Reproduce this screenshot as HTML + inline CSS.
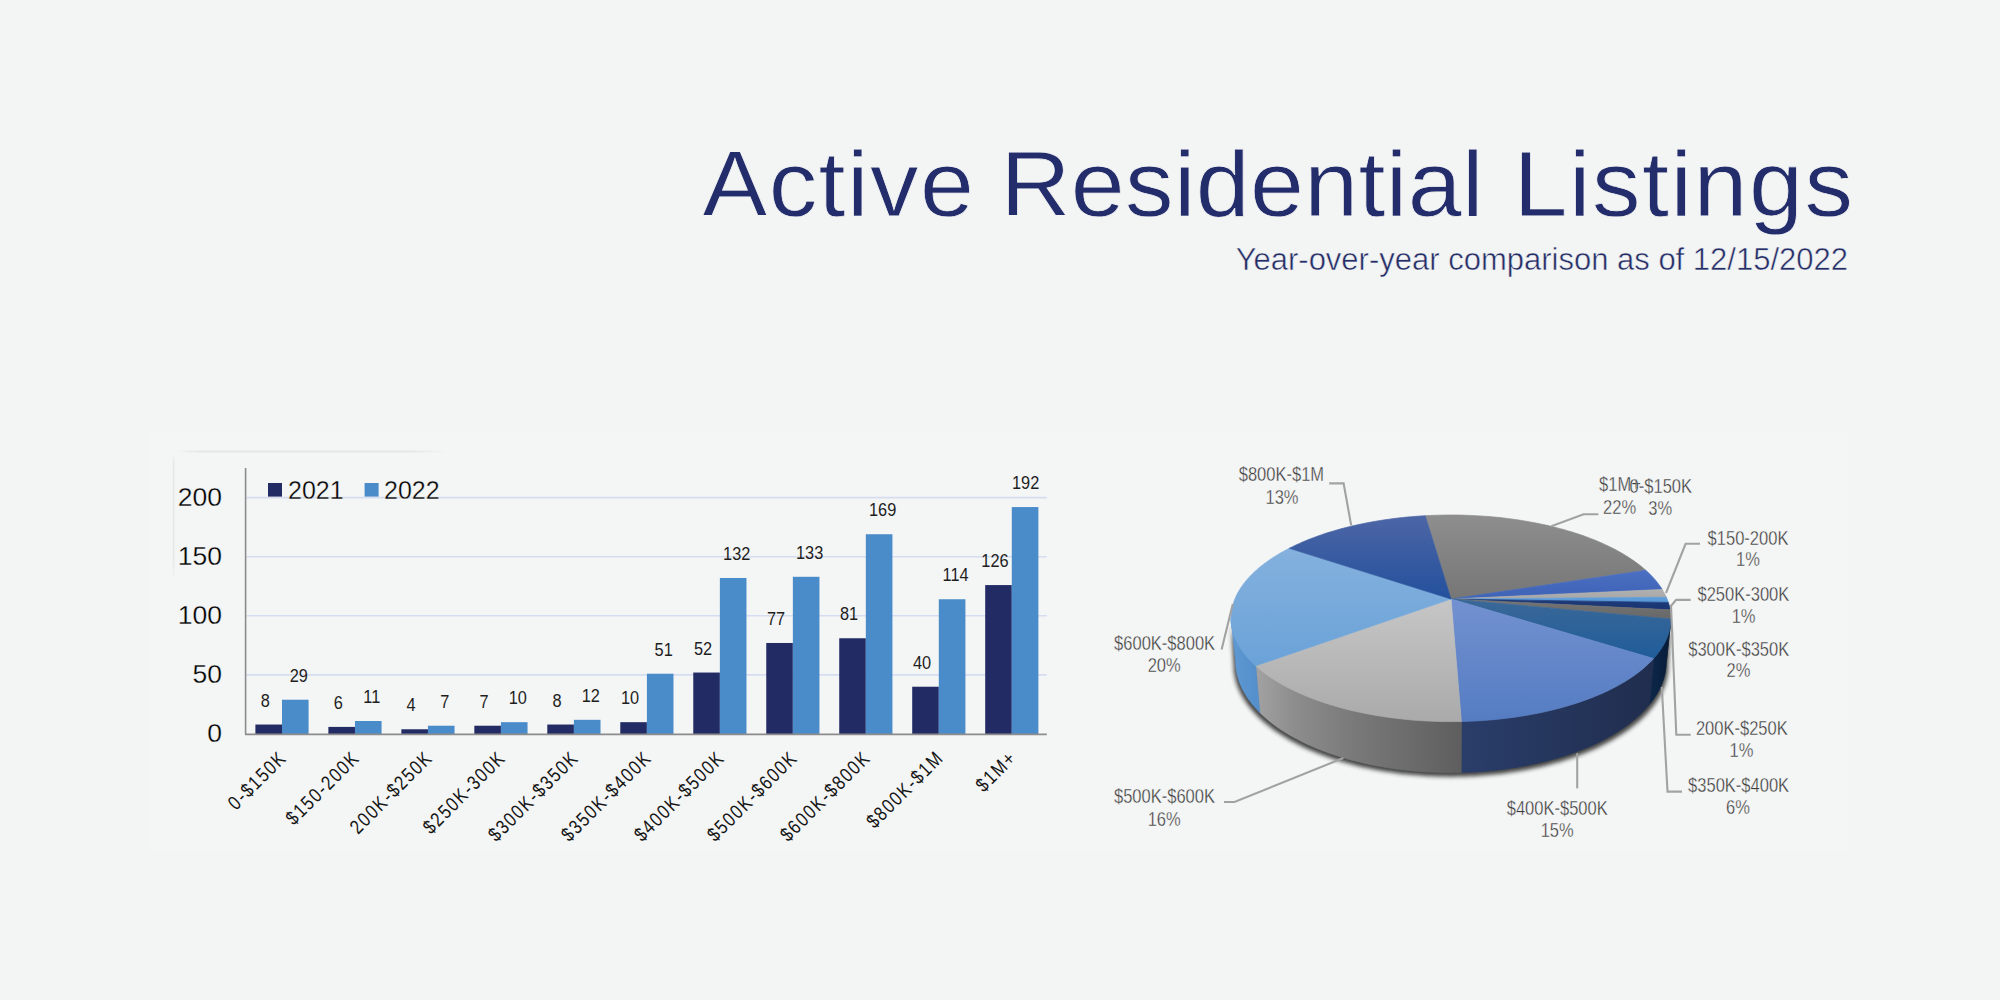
<!DOCTYPE html><html><head><meta charset="utf-8"><style>
html,body{margin:0;padding:0;width:2000px;height:1000px;overflow:hidden;background:#f3f4f4;}
svg{position:absolute;left:0;top:0;display:block;}
text{font-family:"Liberation Sans",sans-serif;}
.title{font-size:97px;fill:#232d6b;stroke:#f3f4f4;stroke-width:0.8px;}
.sub{font-size:31px;fill:#252d66;stroke:#f3f4f4;stroke-width:0.5px;}
.dl{font-size:19px;fill:#1e1e1e;text-anchor:middle;}
.yl{font-size:26.5px;fill:#000;text-anchor:end;stroke:#f4f5f5;stroke-width:0.3px;}
.lg{font-size:25px;fill:#000;stroke:#f4f5f5;stroke-width:0.3px;}
.xl{font-size:20px;fill:#151515;text-anchor:end;letter-spacing:2px;}
.pl{font-size:19.8px;fill:#383838;text-anchor:middle;stroke:#f4f5f5;stroke-width:0.35px;}
</style></head><body>
<svg width="2000" height="1000" viewBox="0 0 2000 1000">
<defs><filter id="pshadow" x="-20%" y="-30%" width="140%" height="160%"><feGaussianBlur stdDeviation="1.9"/></filter><linearGradient id="w5_0" gradientUnits="userSpaceOnUse" x1="1671.0" y1="0" x2="1671.0" y2="0"><stop offset="0" stop-color="#505050"/><stop offset="1" stop-color="#404040"/></linearGradient><linearGradient id="w6_0" gradientUnits="userSpaceOnUse" x1="1653.6" y1="0" x2="1671.0" y2="0"><stop offset="0" stop-color="#0c2648"/><stop offset="1" stop-color="#071a36"/></linearGradient><linearGradient id="w7_0" gradientUnits="userSpaceOnUse" x1="1461.4" y1="0" x2="1653.6" y2="0"><stop offset="0" stop-color="#2a3e6a"/><stop offset="1" stop-color="#202d4e"/></linearGradient><linearGradient id="w8_0" gradientUnits="userSpaceOnUse" x1="1255.7" y1="0" x2="1461.4" y2="0"><stop offset="0" stop-color="#a2a2a2"/><stop offset="0.2" stop-color="#8c8c8c"/><stop offset="0.5" stop-color="#787878"/><stop offset="0.8" stop-color="#696969"/><stop offset="1" stop-color="#5e5e5e"/></linearGradient><linearGradient id="w9_0" gradientUnits="userSpaceOnUse" x1="1231.0" y1="0" x2="1255.7" y2="0"><stop offset="0" stop-color="#5e99d3"/><stop offset="1" stop-color="#5590cc"/></linearGradient><linearGradient id="t0" gradientUnits="userSpaceOnUse" x1="0" y1="515" x2="0" y2="600"><stop offset="0" stop-color="#8e8e8e"/><stop offset="1" stop-color="#767676"/></linearGradient><linearGradient id="t1" gradientUnits="userSpaceOnUse" x1="0" y1="570" x2="0" y2="600"><stop offset="0" stop-color="#4c70c2"/><stop offset="1" stop-color="#3d62b6"/></linearGradient><linearGradient id="t2" gradientUnits="userSpaceOnUse" x1="0" y1="590" x2="0" y2="600"><stop offset="0" stop-color="#b0b0b0"/><stop offset="1" stop-color="#a6a6a6"/></linearGradient><linearGradient id="t3" gradientUnits="userSpaceOnUse" x1="0" y1="595" x2="0" y2="602"><stop offset="0" stop-color="#62a0dc"/><stop offset="1" stop-color="#5898d6"/></linearGradient><linearGradient id="t4" gradientUnits="userSpaceOnUse" x1="0" y1="598" x2="0" y2="608"><stop offset="0" stop-color="#1e3c7c"/><stop offset="1" stop-color="#1a3572"/></linearGradient><linearGradient id="t5" gradientUnits="userSpaceOnUse" x1="0" y1="600" x2="0" y2="616"><stop offset="0" stop-color="#747474"/><stop offset="1" stop-color="#6a6a6a"/></linearGradient><linearGradient id="t6" gradientUnits="userSpaceOnUse" x1="0" y1="600" x2="0" y2="660"><stop offset="0" stop-color="#3a6898"/><stop offset="1" stop-color="#1f5c9a"/></linearGradient><linearGradient id="t7" gradientUnits="userSpaceOnUse" x1="0" y1="600" x2="0" y2="722"><stop offset="0" stop-color="#7291d0"/><stop offset="1" stop-color="#557cc2"/></linearGradient><linearGradient id="t8" gradientUnits="userSpaceOnUse" x1="0" y1="600" x2="0" y2="722"><stop offset="0" stop-color="#c6c6c6"/><stop offset="1" stop-color="#aaaaaa"/></linearGradient><linearGradient id="t9" gradientUnits="userSpaceOnUse" x1="0" y1="540" x2="0" y2="667"><stop offset="0" stop-color="#86b2de"/><stop offset="1" stop-color="#6aa2d8"/></linearGradient><linearGradient id="t10" gradientUnits="userSpaceOnUse" x1="0" y1="515" x2="0" y2="600"><stop offset="0" stop-color="#4d66a6"/><stop offset="1" stop-color="#23509c"/></linearGradient></defs>
<rect x="150" y="431" width="1699" height="419" fill="#f4f5f5"/>
<linearGradient id="fr1" x1="0" y1="0" x2="1" y2="0"><stop offset="0" stop-color="#e4e6e6" stop-opacity="0"/><stop offset="0.1" stop-color="#e4e6e6"/><stop offset="0.85" stop-color="#e4e6e6"/><stop offset="1" stop-color="#e4e6e6" stop-opacity="0"/></linearGradient>
<linearGradient id="fr2" x1="0" y1="0" x2="0" y2="1"><stop offset="0" stop-color="#e4e6e6" stop-opacity="0"/><stop offset="0.1" stop-color="#e4e6e6"/><stop offset="0.8" stop-color="#e4e6e6"/><stop offset="1" stop-color="#e4e6e6" stop-opacity="0"/></linearGradient>
<rect x="175" y="450.5" width="273" height="2" fill="url(#fr1)"/>
<rect x="172.8" y="452" width="1.6" height="130" fill="url(#fr2)"/>
<g transform="translate(0,215.6) scale(1,0.955) translate(0,-215.6)">
<text x="702.5" y="215.6" class="title" textLength="271.5" lengthAdjust="spacing">Active</text>
<text x="1000.5" y="215.6" class="title" textLength="483" lengthAdjust="spacing">Residential</text>
<text x="1513.5" y="215.6" class="title" textLength="339.5" lengthAdjust="spacing">Listings</text>
</g>
<text x="1848" y="269.8" class="sub" text-anchor="end">Year-over-year comparison as of 12/15/2022</text>
<g><line x1="246.5" y1="674.9" x2="1046.8" y2="674.9" stroke="#d6ddf0" stroke-width="1.6"/><line x1="246.5" y1="615.8" x2="1046.8" y2="615.8" stroke="#d6ddf0" stroke-width="1.6"/><line x1="246.5" y1="556.7" x2="1046.8" y2="556.7" stroke="#d6ddf0" stroke-width="1.6"/><line x1="246.5" y1="497.6" x2="1046.8" y2="497.6" stroke="#d6ddf0" stroke-width="1.6"/><rect x="255.39" y="724.54" width="26.60" height="9.46" fill="#232b64"/><rect x="281.99" y="699.72" width="26.60" height="34.28" fill="#4a8cca"/><text transform="translate(265.19,706.54) scale(0.86,1)" class="dl">8</text><text transform="translate(298.79,681.72) scale(0.86,1)" class="dl">29</text><text class="xl" transform="translate(287.99,759.00) rotate(-45) scale(0.82,1)">0-&#36;150K</text><rect x="328.37" y="726.91" width="26.60" height="7.09" fill="#232b64"/><rect x="354.97" y="721.00" width="26.60" height="13.00" fill="#4a8cca"/><text transform="translate(338.17,708.91) scale(0.86,1)" class="dl">6</text><text transform="translate(371.77,703.00) scale(0.86,1)" class="dl">11</text><text class="xl" transform="translate(360.97,759.00) rotate(-45) scale(0.82,1)">&#36;150-200K</text><rect x="401.35" y="729.27" width="26.60" height="4.73" fill="#232b64"/><rect x="427.95" y="725.73" width="26.60" height="8.27" fill="#4a8cca"/><text transform="translate(411.15,711.27) scale(0.86,1)" class="dl">4</text><text transform="translate(444.75,707.73) scale(0.86,1)" class="dl">7</text><text class="xl" transform="translate(433.95,759.00) rotate(-45) scale(0.82,1)">200K-&#36;250K</text><rect x="474.33" y="725.73" width="26.60" height="8.27" fill="#232b64"/><rect x="500.93" y="722.18" width="26.60" height="11.82" fill="#4a8cca"/><text transform="translate(484.13,707.73) scale(0.86,1)" class="dl">7</text><text transform="translate(517.73,704.18) scale(0.86,1)" class="dl">10</text><text class="xl" transform="translate(506.93,759.00) rotate(-45) scale(0.82,1)">&#36;250K-300K</text><rect x="547.31" y="724.54" width="26.60" height="9.46" fill="#232b64"/><rect x="573.91" y="719.82" width="26.60" height="14.18" fill="#4a8cca"/><text transform="translate(557.11,706.54) scale(0.86,1)" class="dl">8</text><text transform="translate(590.71,701.82) scale(0.86,1)" class="dl">12</text><text class="xl" transform="translate(579.91,759.00) rotate(-45) scale(0.82,1)">&#36;300K-&#36;350K</text><rect x="620.29" y="722.18" width="26.60" height="11.82" fill="#232b64"/><rect x="646.89" y="673.72" width="26.60" height="60.28" fill="#4a8cca"/><text transform="translate(630.09,704.18) scale(0.86,1)" class="dl">10</text><text transform="translate(663.69,655.72) scale(0.86,1)" class="dl">51</text><text class="xl" transform="translate(652.89,759.00) rotate(-45) scale(0.82,1)">&#36;350K-&#36;400K</text><rect x="693.27" y="672.54" width="26.60" height="61.46" fill="#232b64"/><rect x="719.87" y="577.98" width="26.60" height="156.02" fill="#4a8cca"/><text transform="translate(703.07,654.54) scale(0.86,1)" class="dl">52</text><text transform="translate(736.67,559.98) scale(0.86,1)" class="dl">132</text><text class="xl" transform="translate(725.87,759.00) rotate(-45) scale(0.82,1)">&#36;400K-&#36;500K</text><rect x="766.25" y="642.99" width="26.60" height="91.01" fill="#232b64"/><rect x="792.85" y="576.79" width="26.60" height="157.21" fill="#4a8cca"/><text transform="translate(776.05,624.99) scale(0.86,1)" class="dl">77</text><text transform="translate(809.65,558.79) scale(0.86,1)" class="dl">133</text><text class="xl" transform="translate(798.85,759.00) rotate(-45) scale(0.82,1)">&#36;500K-&#36;600K</text><rect x="839.23" y="638.26" width="26.60" height="95.74" fill="#232b64"/><rect x="865.83" y="534.24" width="26.60" height="199.76" fill="#4a8cca"/><text transform="translate(849.03,620.26) scale(0.86,1)" class="dl">81</text><text transform="translate(882.63,516.24) scale(0.86,1)" class="dl">169</text><text class="xl" transform="translate(871.83,759.00) rotate(-45) scale(0.82,1)">&#36;600K-&#36;800K</text><rect x="912.21" y="686.72" width="26.60" height="47.28" fill="#232b64"/><rect x="938.81" y="599.25" width="26.60" height="134.75" fill="#4a8cca"/><text transform="translate(922.01,668.72) scale(0.86,1)" class="dl">40</text><text transform="translate(955.61,581.25) scale(0.86,1)" class="dl">114</text><text class="xl" transform="translate(944.81,759.00) rotate(-45) scale(0.82,1)">&#36;800K-&#36;1M</text><rect x="985.19" y="585.07" width="26.60" height="148.93" fill="#232b64"/><rect x="1011.79" y="507.06" width="26.60" height="226.94" fill="#4a8cca"/><text transform="translate(994.99,567.07) scale(0.86,1)" class="dl">126</text><text transform="translate(1025.59,489.06) scale(0.86,1)" class="dl">192</text><text class="xl" transform="translate(1017.79,759.00) rotate(-45) scale(0.82,1)">&#36;1M+</text><line x1="245.6" y1="468" x2="245.6" y2="734.5" stroke="#8c8c8c" stroke-width="1.6"/><line x1="245" y1="734.3" x2="1046.8" y2="734.3" stroke="#8c8c8c" stroke-width="1.8"/><text x="222" y="742.3" class="yl">0</text><text x="222" y="683.2" class="yl">50</text><text x="222" y="624.1" class="yl">100</text><text x="222" y="565.0" class="yl">150</text><text x="222" y="505.9" class="yl">200</text><rect x="268" y="483" width="14" height="13.6" fill="#232b64"/><text x="288" y="499" class="lg">2021</text><rect x="364.6" y="483" width="14" height="13.6" fill="#4a8cca"/><text x="384" y="499" class="lg">2022</text></g>
<g><path d="M1233.71,665.30 L1233.77,667.92 L1233.95,670.54 L1234.25,673.18 L1234.68,675.82 L1235.24,678.47 L1235.92,681.12 L1236.72,683.78 L1237.66,686.44 L1238.73,689.09 L1239.93,691.74 L1241.26,694.39 L1242.72,697.03 L1244.32,699.66 L1246.05,702.28 L1247.92,704.90 L1249.92,707.49 L1252.05,710.07 L1254.33,712.63 L1256.73,715.17 L1259.28,717.69 L1261.95,720.19 L1264.76,722.66 L1267.71,725.10 L1270.79,727.51 L1274.00,729.88 L1277.34,732.22 L1280.82,734.52 L1284.42,736.79 L1288.15,739.01 L1292.00,741.19 L1295.98,743.32 L1300.08,745.40 L1304.30,747.43 L1308.64,749.41 L1313.09,751.34 L1317.66,753.21 L1322.33,755.02 L1327.11,756.76 L1331.99,758.45 L1336.97,760.07 L1342.05,761.63 L1347.22,763.11 L1352.47,764.53 L1357.82,765.88 L1363.24,767.15 L1368.73,768.35 L1374.30,769.47 L1379.94,770.51 L1385.64,771.48 L1391.39,772.36 L1397.20,773.17 L1403.06,773.89 L1408.96,774.53 L1414.89,775.09 L1420.86,775.56 L1426.86,775.95 L1432.87,776.25 L1438.91,776.46 L1444.95,776.59 L1451.00,776.64 L1457.05,776.59 L1463.09,776.46 L1469.13,776.25 L1475.14,775.95 L1481.14,775.56 L1487.11,775.09 L1493.04,774.53 L1498.94,773.89 L1504.80,773.17 L1510.61,772.36 L1516.36,771.48 L1522.06,770.51 L1527.70,769.47 L1533.27,768.35 L1538.76,767.15 L1544.18,765.88 L1549.53,764.53 L1554.78,763.11 L1559.95,761.63 L1565.03,760.07 L1570.01,758.45 L1574.89,756.76 L1579.67,755.02 L1584.34,753.21 L1588.91,751.34 L1593.36,749.41 L1597.70,747.43 L1601.92,745.40 L1606.02,743.32 L1610.00,741.19 L1613.85,739.01 L1617.58,736.79 L1621.18,734.52 L1624.66,732.22 L1628.00,729.88 L1631.21,727.51 L1634.29,725.10 L1637.24,722.66 L1640.05,720.19 L1642.72,717.69 L1645.27,715.17 L1647.67,712.63 L1649.95,710.07 L1652.08,707.49 L1654.08,704.90 L1655.95,702.28 L1657.68,699.66 L1659.28,697.03 L1660.74,694.39 L1662.07,691.74 L1663.27,689.09 L1664.34,686.44 L1665.28,683.78 L1666.08,681.12 L1666.76,678.47 L1667.32,675.82 L1667.75,673.18 L1668.05,670.54 L1668.23,667.92 L1668.29,665.30 L1670.97,618.30 L1670.91,620.73 L1670.73,623.16 L1670.42,625.61 L1669.99,628.06 L1669.43,630.52 L1668.74,632.98 L1667.92,635.45 L1666.97,637.91 L1665.89,640.37 L1664.68,642.83 L1663.33,645.29 L1661.85,647.74 L1660.23,650.18 L1658.48,652.62 L1656.59,655.04 L1654.56,657.45 L1652.40,659.84 L1650.10,662.22 L1647.66,664.58 L1645.09,666.91 L1642.38,669.23 L1639.53,671.52 L1636.55,673.78 L1633.43,676.02 L1630.18,678.22 L1626.80,680.39 L1623.28,682.53 L1619.64,684.63 L1615.86,686.69 L1611.96,688.71 L1607.93,690.69 L1603.78,692.62 L1599.51,694.51 L1595.12,696.34 L1590.61,698.13 L1585.99,699.86 L1581.26,701.54 L1576.42,703.17 L1571.48,704.73 L1566.44,706.23 L1561.30,707.68 L1556.06,709.06 L1550.74,710.37 L1545.33,711.62 L1539.85,712.80 L1534.28,713.91 L1528.64,714.95 L1522.94,715.92 L1517.17,716.82 L1511.34,717.64 L1505.46,718.39 L1499.53,719.06 L1493.56,719.65 L1487.55,720.17 L1481.51,720.60 L1475.44,720.96 L1469.35,721.24 L1463.24,721.44 L1457.12,721.56 L1451.00,721.60 L1444.88,721.56 L1438.76,721.44 L1432.65,721.24 L1426.56,720.96 L1420.49,720.60 L1414.45,720.17 L1408.44,719.65 L1402.47,719.06 L1396.54,718.39 L1390.66,717.64 L1384.83,716.82 L1379.06,715.92 L1373.36,714.95 L1367.72,713.91 L1362.15,712.80 L1356.67,711.62 L1351.26,710.37 L1345.94,709.06 L1340.70,707.68 L1335.56,706.23 L1330.52,704.73 L1325.58,703.17 L1320.74,701.54 L1316.01,699.86 L1311.39,698.13 L1306.88,696.34 L1302.49,694.51 L1298.22,692.62 L1294.07,690.69 L1290.04,688.71 L1286.14,686.69 L1282.36,684.63 L1278.72,682.53 L1275.20,680.39 L1271.82,678.22 L1268.57,676.02 L1265.45,673.78 L1262.47,671.52 L1259.62,669.23 L1256.91,666.91 L1254.34,664.58 L1251.90,662.22 L1249.60,659.84 L1247.44,657.45 L1245.41,655.04 L1243.52,652.62 L1241.77,650.18 L1240.15,647.74 L1238.67,645.29 L1237.32,642.83 L1236.11,640.37 L1235.03,637.91 L1234.08,635.45 L1233.26,632.98 L1232.57,630.52 L1232.01,628.06 L1231.58,625.61 L1231.27,623.16 L1231.09,620.73 L1231.03,618.30 Z" fill="#2a2a2a" opacity="0.88" filter="url(#pshadow)"/><path d="M1670.97,618.30 L1670.97,618.32 L1670.97,618.33 L1670.97,618.35 L1670.97,618.37 L1670.97,618.39 L1670.97,618.40 L1670.97,618.42 L1670.97,618.44 L1670.97,618.46 L1670.97,618.48 L1670.97,618.49 L1670.97,618.51 L1670.97,618.53 L1670.97,618.55 L1670.97,618.57 L1670.97,618.58 L1670.97,618.60 L1670.97,618.62 L1670.97,618.64 L1670.97,618.66 L1670.97,618.67 L1670.97,618.69 L1670.97,618.71 L1670.97,618.73 L1670.97,618.74 L1670.97,618.76 L1670.97,618.78 L1670.97,618.80 L1670.97,618.82 L1670.97,618.83 L1670.97,618.85 L1670.97,618.87 L1670.97,618.89 L1670.97,618.91 L1670.97,618.92 L1670.97,618.94 L1670.97,618.96 L1670.97,618.98 L1670.97,619.00 L1670.97,619.01 L1666.35,662.07 L1666.35,662.05 L1666.35,662.03 L1666.35,662.01 L1666.35,661.99 L1666.35,661.97 L1666.35,661.95 L1666.35,661.93 L1666.35,661.91 L1666.35,661.90 L1666.35,661.88 L1666.35,661.86 L1666.35,661.84 L1666.35,661.82 L1666.35,661.80 L1666.35,661.78 L1666.35,661.76 L1666.35,661.74 L1666.35,661.72 L1666.35,661.70 L1666.35,661.68 L1666.35,661.66 L1666.35,661.64 L1666.35,661.63 L1666.35,661.61 L1666.35,661.59 L1666.35,661.57 L1666.35,661.55 L1666.35,661.53 L1666.35,661.51 L1666.35,661.49 L1666.35,661.47 L1666.35,661.45 L1666.35,661.43 L1666.35,661.41 L1666.35,661.39 L1666.35,661.37 L1666.35,661.36 L1666.35,661.34 L1666.35,661.32 L1666.35,661.30 Z" fill="url(#w5_0)" stroke="url(#w5_0)" stroke-width="0.7"/><path d="M1670.97,619.01 L1670.94,619.99 L1670.90,620.98 L1670.83,621.96 L1670.75,622.95 L1670.64,623.94 L1670.52,624.92 L1670.37,625.91 L1670.21,626.91 L1670.02,627.90 L1669.81,628.89 L1669.58,629.88 L1669.33,630.88 L1669.06,631.87 L1668.77,632.87 L1668.46,633.86 L1668.13,634.86 L1667.77,635.85 L1667.40,636.85 L1667.00,637.85 L1666.58,638.84 L1666.14,639.84 L1665.67,640.83 L1665.19,641.83 L1664.68,642.82 L1664.16,643.81 L1663.61,644.81 L1663.03,645.80 L1662.44,646.79 L1661.82,647.78 L1661.19,648.77 L1660.53,649.75 L1659.84,650.74 L1659.14,651.72 L1658.41,652.70 L1657.66,653.68 L1656.89,654.66 L1656.10,655.64 L1655.28,656.61 L1654.44,657.58 L1653.58,658.55 L1649.33,704.68 L1650.17,703.64 L1650.99,702.59 L1651.79,701.54 L1652.57,700.49 L1653.32,699.44 L1654.06,698.38 L1654.77,697.32 L1655.46,696.26 L1656.13,695.20 L1656.77,694.14 L1657.40,693.07 L1658.00,692.01 L1658.58,690.94 L1659.14,689.87 L1659.68,688.80 L1660.20,687.73 L1660.69,686.66 L1661.17,685.59 L1661.62,684.51 L1662.05,683.44 L1662.46,682.37 L1662.85,681.29 L1663.22,680.22 L1663.57,679.15 L1663.89,678.07 L1664.20,677.00 L1664.49,675.93 L1664.75,674.86 L1664.99,673.78 L1665.22,672.71 L1665.42,671.64 L1665.60,670.58 L1665.77,669.51 L1665.91,668.44 L1666.03,667.37 L1666.13,666.31 L1666.22,665.25 L1666.28,664.19 L1666.32,663.13 L1666.35,662.07 Z" fill="url(#w6_0)" stroke="url(#w6_0)" stroke-width="0.7"/><path d="M1653.58,658.55 L1651.25,661.05 L1648.77,663.53 L1646.14,665.98 L1643.36,668.41 L1640.43,670.82 L1637.35,673.19 L1634.12,675.54 L1630.74,677.85 L1627.22,680.13 L1623.56,682.36 L1619.75,684.56 L1615.81,686.72 L1611.72,688.83 L1607.49,690.90 L1603.14,692.91 L1598.64,694.88 L1594.02,696.79 L1589.28,698.64 L1584.41,700.43 L1579.42,702.17 L1574.31,703.84 L1569.10,705.45 L1563.77,706.99 L1558.34,708.47 L1552.81,709.87 L1547.19,711.20 L1541.47,712.46 L1535.67,713.64 L1529.79,714.75 L1523.83,715.78 L1517.81,716.72 L1511.72,717.59 L1505.57,718.37 L1499.37,719.07 L1493.12,719.69 L1486.83,720.22 L1480.50,720.67 L1474.15,721.03 L1467.78,721.30 L1461.38,721.49 L1461.16,772.51 L1467.42,772.31 L1473.67,772.02 L1479.89,771.63 L1486.08,771.15 L1492.23,770.58 L1498.35,769.91 L1504.42,769.15 L1510.44,768.31 L1516.41,767.38 L1522.30,766.35 L1528.14,765.25 L1533.89,764.06 L1539.57,762.78 L1545.17,761.43 L1550.67,759.99 L1556.09,758.48 L1561.40,756.89 L1566.62,755.23 L1571.72,753.50 L1576.72,751.69 L1581.61,749.82 L1586.37,747.89 L1591.02,745.89 L1595.54,743.83 L1599.94,741.71 L1604.21,739.54 L1608.34,737.32 L1612.34,735.04 L1616.21,732.72 L1619.94,730.35 L1623.52,727.93 L1626.97,725.48 L1630.27,722.99 L1633.43,720.46 L1636.45,717.90 L1639.32,715.31 L1642.04,712.69 L1644.62,710.04 L1647.05,707.37 L1649.33,704.68 Z" fill="url(#w7_0)" stroke="url(#w7_0)" stroke-width="0.7"/><path d="M1461.38,721.49 L1454.93,721.59 L1448.48,721.60 L1442.02,721.52 L1435.58,721.35 L1429.15,721.09 L1422.74,720.75 L1416.37,720.31 L1410.02,719.79 L1403.72,719.19 L1397.46,718.50 L1391.26,717.72 L1385.11,716.86 L1379.03,715.92 L1373.02,714.89 L1367.08,713.79 L1361.23,712.61 L1355.46,711.35 L1349.78,710.02 L1344.20,708.61 L1338.72,707.13 L1333.34,705.58 L1328.08,703.97 L1322.93,702.29 L1317.89,700.54 L1312.98,698.74 L1308.19,696.87 L1303.53,694.95 L1299.00,692.97 L1294.60,690.94 L1290.34,688.86 L1286.23,686.74 L1282.25,684.56 L1278.41,682.35 L1274.72,680.09 L1271.18,677.80 L1267.78,675.47 L1264.53,673.10 L1261.44,670.71 L1258.49,668.28 L1255.70,665.83 L1259.80,712.53 L1262.54,715.17 L1265.42,717.78 L1268.45,720.36 L1271.63,722.91 L1274.95,725.42 L1278.42,727.90 L1282.04,730.33 L1285.79,732.72 L1289.69,735.06 L1293.72,737.35 L1297.89,739.59 L1302.19,741.78 L1306.63,743.91 L1311.19,745.98 L1315.88,747.99 L1320.69,749.94 L1325.61,751.82 L1330.66,753.63 L1335.81,755.37 L1341.08,757.04 L1346.44,758.63 L1351.91,760.15 L1357.46,761.58 L1363.11,762.94 L1368.84,764.21 L1374.66,765.40 L1380.54,766.51 L1386.49,767.52 L1392.51,768.45 L1398.59,769.29 L1404.71,770.03 L1410.88,770.69 L1417.09,771.25 L1423.34,771.71 L1429.61,772.08 L1435.90,772.36 L1442.21,772.54 L1448.53,772.63 L1454.85,772.62 L1461.16,772.51 Z" fill="url(#w8_0)" stroke="url(#w8_0)" stroke-width="0.7"/><path d="M1255.70,665.83 L1254.46,664.69 L1253.25,663.54 L1252.07,662.39 L1250.92,661.23 L1249.81,660.07 L1248.73,658.90 L1247.68,657.73 L1246.67,656.55 L1245.69,655.38 L1244.74,654.20 L1243.82,653.01 L1242.94,651.83 L1242.09,650.64 L1241.27,649.45 L1240.48,648.25 L1239.73,647.06 L1239.00,645.86 L1238.31,644.66 L1237.66,643.46 L1237.03,642.26 L1236.44,641.06 L1235.87,639.86 L1235.34,638.66 L1234.84,637.45 L1234.37,636.25 L1233.94,635.05 L1233.53,633.84 L1233.16,632.64 L1232.81,631.44 L1232.50,630.24 L1232.22,629.03 L1231.97,627.84 L1231.75,626.64 L1231.55,625.44 L1231.39,624.24 L1231.26,623.05 L1231.16,621.86 L1231.09,620.67 L1231.04,619.48 L1231.03,618.30 L1235.65,661.30 L1235.66,662.57 L1235.70,663.85 L1235.78,665.14 L1235.88,666.42 L1236.00,667.71 L1236.16,669.00 L1236.35,670.29 L1236.57,671.58 L1236.81,672.87 L1237.09,674.16 L1237.40,675.46 L1237.73,676.75 L1238.10,678.05 L1238.50,679.35 L1238.92,680.65 L1239.38,681.94 L1239.87,683.24 L1240.39,684.54 L1240.94,685.83 L1241.52,687.13 L1242.14,688.42 L1242.78,689.71 L1243.46,691.01 L1244.16,692.30 L1244.90,693.58 L1245.67,694.87 L1246.47,696.15 L1247.31,697.44 L1248.17,698.71 L1249.07,699.99 L1250.00,701.26 L1250.96,702.53 L1251.95,703.80 L1252.98,705.06 L1254.03,706.31 L1255.12,707.57 L1256.24,708.81 L1257.40,710.06 L1258.58,711.30 L1259.80,712.53 Z" fill="url(#w9_0)" stroke="url(#w9_0)" stroke-width="0.7"/><path d="M1451.00,599.00 L1425.30,515.70 L1429.84,515.47 L1434.39,515.29 L1438.95,515.15 L1443.50,515.05 L1448.06,515.00 L1452.62,515.00 L1457.19,515.03 L1461.74,515.12 L1466.30,515.24 L1470.85,515.41 L1475.39,515.63 L1479.93,515.89 L1484.45,516.19 L1488.97,516.54 L1493.47,516.94 L1497.96,517.37 L1502.43,517.86 L1506.88,518.38 L1511.32,518.95 L1515.73,519.57 L1520.12,520.23 L1524.49,520.93 L1528.83,521.68 L1533.15,522.47 L1537.44,523.30 L1541.69,524.18 L1545.92,525.10 L1550.11,526.07 L1554.26,527.08 L1558.38,528.14 L1562.45,529.23 L1566.49,530.38 L1570.48,531.56 L1574.43,532.79 L1578.33,534.06 L1582.18,535.37 L1585.98,536.73 L1589.73,538.13 L1593.43,539.57 L1597.06,541.05 L1600.64,542.58 L1604.16,544.15 L1607.61,545.76 L1611.00,547.41 L1614.33,549.10 L1617.58,550.83 L1620.76,552.60 L1623.86,554.41 L1626.89,556.26 L1629.84,558.15 L1632.71,560.08 L1635.50,562.04 L1638.20,564.05 L1640.81,566.09 L1643.33,568.16 L1645.76,570.28 Z" fill="url(#t0)" stroke="url(#t0)" stroke-width="0.7" stroke-linejoin="round"/><path d="M1451.00,599.00 L1645.76,570.28 L1648.22,572.55 L1650.58,574.86 L1652.82,577.20 L1654.94,579.59 L1656.95,582.01 L1658.84,584.46 L1660.60,586.95 L1662.23,589.46 Z" fill="url(#t1)" stroke="url(#t1)" stroke-width="0.7" stroke-linejoin="round"/><path d="M1451.00,599.00 L1662.23,589.46 L1663.38,591.40 L1664.46,593.35 L1665.46,595.31 L1666.38,597.29 Z" fill="url(#t2)" stroke="url(#t2)" stroke-width="0.7" stroke-linejoin="round"/><path d="M1451.00,599.00 L1666.38,597.29 L1666.92,598.56 L1667.43,599.84 L1667.91,601.12 L1668.35,602.41 Z" fill="url(#t3)" stroke="url(#t3)" stroke-width="0.7" stroke-linejoin="round"/><path d="M1451.00,599.00 L1668.35,602.41 L1668.93,604.26 L1669.44,606.12 L1669.87,607.99 L1670.24,609.87 Z" fill="url(#t4)" stroke="url(#t4)" stroke-width="0.7" stroke-linejoin="round"/><path d="M1451.00,599.00 L1670.24,609.87 L1670.58,612.14 L1670.82,614.42 L1670.95,616.71 L1670.97,619.01 Z" fill="url(#t5)" stroke="url(#t5)" stroke-width="0.7" stroke-linejoin="round"/><path d="M1451.00,599.00 L1670.97,619.01 L1670.84,621.82 L1670.56,624.64 L1670.10,627.47 L1669.48,630.31 L1668.69,633.15 L1667.72,636.00 L1666.58,638.84 L1665.26,641.68 L1663.77,644.52 L1662.09,647.35 L1660.24,650.18 L1658.20,652.99 L1655.98,655.78 L1653.58,658.55 Z" fill="url(#t6)" stroke="url(#t6)" stroke-width="0.7" stroke-linejoin="round"/><path d="M1451.00,599.00 L1653.58,658.55 L1651.12,661.18 L1648.50,663.79 L1645.71,666.37 L1642.75,668.92 L1639.63,671.44 L1636.34,673.94 L1632.89,676.39 L1629.28,678.81 L1625.51,681.19 L1621.57,683.53 L1617.48,685.82 L1613.24,688.06 L1608.84,690.25 L1604.30,692.39 L1599.60,694.47 L1594.76,696.49 L1589.78,698.45 L1584.67,700.34 L1579.42,702.17 L1574.04,703.93 L1568.54,705.62 L1562.92,707.23 L1557.18,708.77 L1551.34,710.23 L1545.39,711.61 L1539.34,712.90 L1533.20,714.12 L1526.98,715.24 L1520.67,716.28 L1514.29,717.23 L1507.84,718.09 L1501.33,718.86 L1494.77,719.54 L1488.16,720.12 L1481.51,720.60 L1474.82,720.99 L1468.11,721.29 L1461.38,721.49 Z" fill="url(#t7)" stroke="url(#t7)" stroke-width="0.7" stroke-linejoin="round"/><path d="M1451.00,599.00 L1461.38,721.49 L1454.59,721.59 L1447.80,721.59 L1441.01,721.50 L1434.22,721.30 L1427.46,721.01 L1420.73,720.62 L1414.02,720.13 L1407.36,719.55 L1400.75,718.87 L1394.19,718.10 L1387.69,717.23 L1381.26,716.27 L1374.91,715.22 L1368.64,714.09 L1362.45,712.86 L1356.36,711.55 L1350.37,710.16 L1344.49,708.68 L1338.72,707.13 L1333.06,705.50 L1327.53,703.79 L1322.12,702.02 L1316.85,700.17 L1311.70,698.25 L1306.70,696.27 L1301.84,694.23 L1297.13,692.12 L1292.57,689.96 L1288.16,687.75 L1283.90,685.48 L1279.81,683.17 L1275.87,680.81 L1272.10,678.40 L1268.48,675.96 L1265.04,673.48 L1261.76,670.96 L1258.64,668.41 L1255.70,665.83 Z" fill="url(#t8)" stroke="url(#t8)" stroke-width="0.7" stroke-linejoin="round"/><path d="M1451.00,599.00 L1255.70,665.83 L1252.96,663.26 L1250.39,660.67 L1247.98,658.06 L1245.73,655.43 L1243.65,652.79 L1241.73,650.13 L1239.97,647.45 L1238.38,644.77 L1236.94,642.09 L1235.66,639.40 L1234.55,636.70 L1233.59,634.01 L1232.78,631.32 L1232.13,628.63 L1231.63,625.95 L1231.28,623.27 L1231.08,620.61 L1231.03,617.95 L1231.12,615.31 L1231.35,612.68 L1231.73,610.07 L1232.24,607.48 L1232.88,604.91 L1233.66,602.35 L1234.57,599.82 L1235.61,597.31 L1236.78,594.83 L1238.07,592.37 L1239.48,589.94 L1241.01,587.54 L1242.65,585.16 L1244.41,582.82 L1246.28,580.51 L1248.25,578.22 L1250.34,575.98 L1252.52,573.76 L1254.81,571.58 L1257.19,569.43 L1259.67,567.32 L1262.25,565.25 L1264.91,563.21 L1267.66,561.21 L1270.50,559.25 L1273.42,557.33 L1276.43,555.44 L1279.51,553.60 L1282.67,551.80 L1285.90,550.03 L1289.20,548.31 Z" fill="url(#t9)" stroke="url(#t9)" stroke-width="0.7" stroke-linejoin="round"/><path d="M1451.00,599.00 L1289.20,548.31 L1292.58,546.63 L1296.03,544.98 L1299.54,543.38 L1303.11,541.82 L1306.75,540.31 L1310.44,538.83 L1314.19,537.40 L1318.00,536.01 L1321.85,534.67 L1325.76,533.37 L1329.72,532.11 L1333.72,530.90 L1337.77,529.73 L1341.86,528.60 L1345.99,527.52 L1350.16,526.49 L1354.37,525.49 L1358.61,524.55 L1362.89,523.64 L1367.19,522.78 L1371.53,521.97 L1375.90,521.20 L1380.29,520.48 L1384.71,519.80 L1389.15,519.16 L1393.61,518.57 L1398.09,518.03 L1402.59,517.53 L1407.10,517.07 L1411.64,516.66 L1416.18,516.30 L1420.74,515.97 L1425.30,515.70 Z" fill="url(#t10)" stroke="url(#t10)" stroke-width="0.7" stroke-linejoin="round"/></g>
<g><text transform="translate(1281.4,481.4) scale(0.835,1)" class="pl">&#36;800K-&#36;1M</text><text transform="translate(1282.0,503.8) scale(0.835,1)" class="pl">13%</text><polyline points="1329.20,483.40 1343.60,483.40 1351.20,525.40" fill="none" stroke="#a2a2a2" stroke-width="2.1" stroke-linejoin="miter"/><text transform="translate(1620.0,490.6) scale(0.835,1)" class="pl">&#36;1M+</text><text transform="translate(1619.6,513.8) scale(0.835,1)" class="pl">22%</text><polyline points="1551.20,526.20 1583.60,514.20 1598.40,514.20" fill="none" stroke="#a2a2a2" stroke-width="2.1" stroke-linejoin="miter"/><text transform="translate(1660.8,492.6) scale(0.835,1)" class="pl">0-&#36;150K</text><text transform="translate(1660.2,515.0) scale(0.835,1)" class="pl">3%</text><text transform="translate(1748.0,544.6) scale(0.835,1)" class="pl">&#36;150-200K</text><text transform="translate(1748.0,566.2) scale(0.835,1)" class="pl">1%</text><polyline points="1700.00,543.80 1685.60,543.80 1666.00,593.00" fill="none" stroke="#a2a2a2" stroke-width="2.1" stroke-linejoin="miter"/><text transform="translate(1743.4,600.7) scale(0.835,1)" class="pl">&#36;250K-300K</text><text transform="translate(1743.6,622.8) scale(0.835,1)" class="pl">1%</text><polyline points="1690.70,599.90 1676.20,599.90 1671.10,605.80" fill="none" stroke="#a2a2a2" stroke-width="2.1" stroke-linejoin="miter"/><text transform="translate(1738.7,656.0) scale(0.835,1)" class="pl">&#36;300K-&#36;350K</text><text transform="translate(1738.4,677.2) scale(0.835,1)" class="pl">2%</text><text transform="translate(1741.8,734.8) scale(0.835,1)" class="pl">200K-&#36;250K</text><text transform="translate(1741.5,757.2) scale(0.835,1)" class="pl">1%</text><polyline points="1690.70,734.80 1676.30,734.80 1671.00,605.00" fill="none" stroke="#a2a2a2" stroke-width="2.1" stroke-linejoin="miter"/><text transform="translate(1738.6,791.6) scale(0.835,1)" class="pl">&#36;350K-&#36;400K</text><text transform="translate(1738.0,814.0) scale(0.835,1)" class="pl">6%</text><polyline points="1682.00,791.60 1667.50,791.60 1661.80,687.00" fill="none" stroke="#a2a2a2" stroke-width="2.1" stroke-linejoin="miter"/><text transform="translate(1557.2,814.8) scale(0.835,1)" class="pl">&#36;400K-&#36;500K</text><text transform="translate(1557.2,837.2) scale(0.835,1)" class="pl">15%</text><polyline points="1577.20,753.20 1577.20,788.40" fill="none" stroke="#a2a2a2" stroke-width="2.1" stroke-linejoin="miter"/><text transform="translate(1164.5,803.4) scale(0.835,1)" class="pl">&#36;500K-&#36;600K</text><text transform="translate(1164.2,825.8) scale(0.835,1)" class="pl">16%</text><polyline points="1224.00,802.00 1234.50,802.00 1343.40,758.00" fill="none" stroke="#a2a2a2" stroke-width="2.1" stroke-linejoin="miter"/><text transform="translate(1164.6,649.9) scale(0.835,1)" class="pl">&#36;600K-&#36;800K</text><text transform="translate(1164.2,672.4) scale(0.835,1)" class="pl">20%</text><polyline points="1221.60,649.50 1232.80,604.00" fill="none" stroke="#a2a2a2" stroke-width="2.1" stroke-linejoin="miter"/></g>
</svg></body></html>
